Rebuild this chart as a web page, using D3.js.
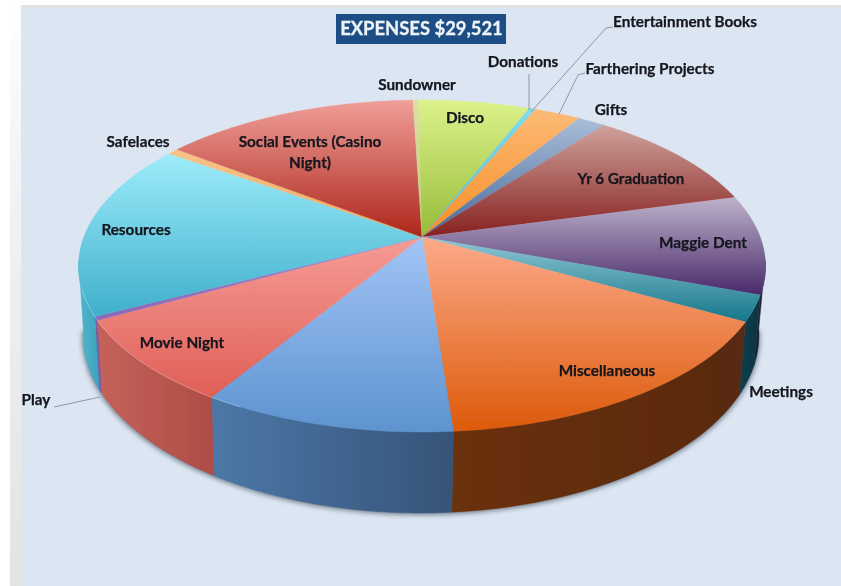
<!DOCTYPE html>
<html><head><meta charset="utf-8">
<script src="https://cdn.jsdelivr.net/npm/d3@7/dist/d3.min.js"></script>
<style>html,body{margin:0;padding:0;background:#fff;overflow:hidden}svg{display:block}</style>
</head><body><svg id="c" width="841" height="586"></svg>
<script>
// ---- data (dollars; total $29,521)
const categories = ["Disco","Donations","Entertainment Books","Farthering Projects","Gifts","Yr 6 Graduation","Maggie Dent","Meetings","Miscellaneous","Unlabelled","Movie Night","Play","Resources","Safelaces","Social Events (Casino Night)","Sundowner"];
const values     = [1840,40,64,763,451,3067,2845,746,4650,2985,2435,100,5066,180,4207,82];
const topLight   = ["#dcf28c","#7ddcf0","#7ddcf0","#fcba76","#aabdd8","#cfa29c","#bdb2ca","#90c8d6","#fcaa8a","#a2c4f6","#f59c96","#a486cc","#9eecfa","#f8c488","#f09f99","#dfe0a8"];
const topDark    = ["#96bc38","#45b8d0","#45b8d0","#f78e26","#46699a","#87201f","#49296b","#15768a","#dc5a0a","#5d93d0","#e05f56","#8868b8","#3fafcb","#f0a860","#ad261b","#b8cc70"];
const wallLeft   = ["#7c9c30","#3a9ab0","#3a9ab0","#c07020","#4a6a90","#7a2a28","#1c2038","#10404e","#6a3008","#4c78a8","#c4625a","#7a5ca8","#52b6ce","#c08040","#9a2a20","#90a050"];
const wallRight  = ["#7c9c30","#3a9ab0","#3a9ab0","#c07020","#4a6a90","#7a2a28","#1c2038","#0c3240","#582a12","#365478","#ae4c46","#7a5ca8","#3ea4bc","#c08040","#9a2a20","#90a050"];
const labelLines = [["Sundowner"],["Disco"],["Donations"],["Entertainment Books"],["Farthering Projects"],["Gifts"],["Yr 6 Graduation"],["Maggie Dent"],["Meetings"],["Miscellaneous"],["Movie Night"],["Play"],["Resources"],["Safelaces"],["Social Events (Casino","Night)"]];
const titleText  = "EXPENSES $29,521";

// ---- layout
const TOP = {cx:422, cy:266, rx:343.5, ry:166};
const BOT = {cx:421, cy:335, rx:338, ry:178};
const APEX = [422,237];
const kA = (TOP.cy-APEX[1])/TOP.ry;
const kP = kA/(1+Math.sqrt(1-kA*kA));
const rad = Math.PI/180;
const labelPos = [[417,85],[465,118],[523,62],[685,22],[650,69],[611,110],[631,179],[703,243],[781,392],[607,371],[182,343],[36,400],[136,230],[138,142],[310,142]];
const leaders = [[[529,74],[529,110]],[[613,27],[606,28],[531,112]],[[585,73],[578,75],[559,114]],[[54,407],[100,397]]];

const svg = d3.select("#c");
const defs = svg.append("defs");
defs.append("filter").attr("id","soft").attr("x","-5%").attr("y","-5%").attr("width","110%").attr("height","110%")
  .append("feGaussianBlur").attr("stdDeviation",0.55);
defs.append("filter").attr("id","shadow").attr("x","-10%").attr("y","-10%").attr("width","120%").attr("height","120%")
  .append("feGaussianBlur").attr("stdDeviation",2.6);
const lg = defs.append("linearGradient").attr("id","edge").attr("x1",0).attr("y1",0).attr("x2",0).attr("y2",1);
lg.append("stop").attr("offset",0).attr("stop-color","#ffffff");
lg.append("stop").attr("offset",0.3).attr("stop-color","#f2f3f4");
lg.append("stop").attr("offset",1).attr("stop-color","#e3e3e2");

// ---- backdrop
svg.append("rect").attr("x",10).attr("y",0).attr("width",12).attr("height",586).attr("fill","url(#edge)");
svg.append("rect").attr("x",21).attr("y",5).attr("width",820).attr("height",581).attr("fill","#dce6f2");
svg.append("rect").attr("x",21).attr("y",5).attr("width",820).attr("height",3).attr("fill","#e0e2e4");

const root = svg.append("g").attr("filter","url(#soft)");

// true pie angle -> apparent ellipse parameter (perspective of a circle)
const toApparent = t => t - 2*Math.atan(kP*Math.sin(t)/(1+kP*Math.cos(t)));
const rimPt = (E,tp) => [E.cx+E.rx*Math.sin(tp), E.cy-E.ry*Math.cos(tp)];

const pie = d3.pie().sort(null).startAngle(-0.8*rad).endAngle(359.2*rad);
const arcs = pie(values).map((d,i)=>({i,a0:toApparent(d.startAngle),a1:toApparent(d.endAngle)}));
const line = d3.line();
const samples = (a0,a1) => d3.range(0,41).map(k=>a0+(a1-a0)*k/40);

// ground shadow
root.append("path").attr("fill","#33404f").attr("opacity",0.62).attr("filter","url(#shadow)")
  .attr("d",line(samples(88*rad,272*rad).map(t=>rimPt({...BOT,rx:BOT.rx+1,cy:BOT.cy+2},t)))+"Z");

// walls
const wL=88*rad, wR=272*rad;
arcs.forEach(d=>{
  const a0=Math.max(d.a0,wL), a1=Math.min(d.a1,wR);
  if(a1<=a0) return;
  const id="w"+d.i;
  const g=defs.append("linearGradient").attr("id",id).attr("x1",0).attr("y1",0).attr("x2",1).attr("y2",0);
  // the front-right slices get darker toward the centre; the brighter stop sits on the screen-left side
  const rightSide=d.a1<=Math.PI*1.02;
  g.append("stop").attr("offset",0).attr("stop-color",rightSide&&d.i===8?wallLeft[d.i]:wallLeft[d.i]);
  g.append("stop").attr("offset",1).attr("stop-color",wallRight[d.i]);
  const s=samples(a0,a1);
  const pts=s.map(t=>rimPt(TOP,t)).concat(s.slice().reverse().map(t=>rimPt(BOT,t)));
  root.append("path").attr("d",line(pts)+"Z").attr("fill",`url(#${id})`).attr("stroke",`url(#${id})`).attr("stroke-width",0.4);
});

// top slices
arcs.forEach(d=>{
  const id="t"+d.i;
  const g=defs.append("linearGradient").attr("id",id).attr("gradientUnits","userSpaceOnUse").attr("x1",0).attr("x2",0);
  const pts=samples(d.a0,d.a1).map(t=>rimPt(TOP,t));
  const ys=pts.map(p=>p[1]).concat(APEX[1]);
  g.attr("y1",d3.min(ys)).attr("y2",d3.max(ys));
  g.append("stop").attr("offset",0).attr("stop-color",topLight[d.i]);
  g.append("stop").attr("offset",1).attr("stop-color",topDark[d.i]);
  root.append("path").attr("d",line([APEX,...pts])+"Z").attr("fill",`url(#${id})`).attr("stroke",`url(#${id})`).attr("stroke-width",0.4);
});

// front rim highlight
root.append("path").attr("fill","none").attr("stroke","#ffffff").attr("stroke-opacity",0.28).attr("stroke-width",1)
  .attr("d",line(samples(212*rad,262*rad).map(t=>rimPt(TOP,t))));

// leaders
const leaderG=root.append("g");
leaders.forEach(p=>leaderG.append("path").attr("d",line(p)).attr("fill","none").attr("stroke","#8f979f").attr("stroke-width",1));

// labels
labelLines.forEach((ls,i)=>{
  const [x,y]=labelPos[i];
  ls.forEach((s,k)=>root.append("text").attr("x",x).attr("y",y+k*21).attr("dy","0.35em").attr("text-anchor","middle")
    .attr("font-family","Lato, 'Open Sans', sans-serif").attr("font-weight",700).attr("font-size",15.3)
    .attr("stroke","#14161f").attr("stroke-width",0.25).attr("fill","#14161f").text(s));
});

// title
root.append("rect").attr("x",336).attr("y",14).attr("width",170).attr("height",30).attr("fill","#1f4e85");
root.append("text").attr("x",421.5).attr("y",29).attr("dy","0.35em").attr("text-anchor","middle")
  .attr("font-family","Lato, sans-serif").attr("font-weight",700).attr("font-size",18.4)
  .attr("stroke","#eef3f8").attr("stroke-width",0.3).attr("fill","#eef3f8").text(titleText);
</script></body></html>
